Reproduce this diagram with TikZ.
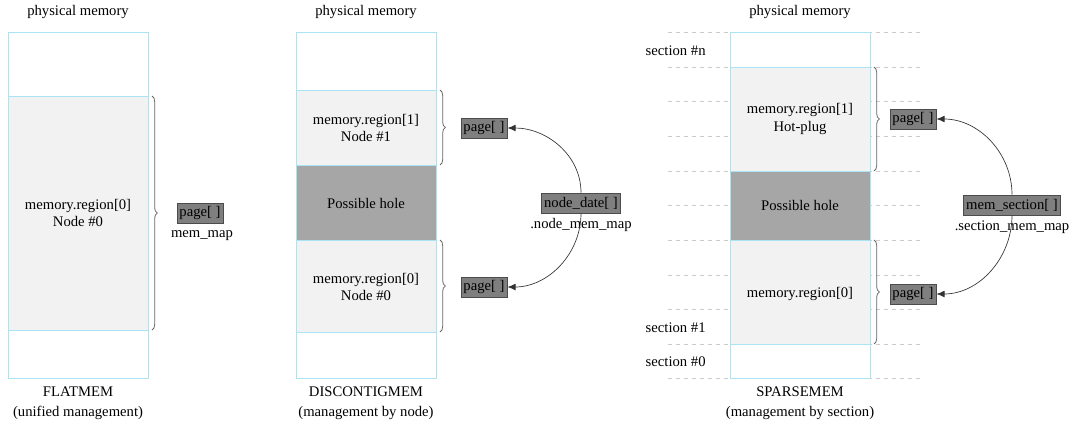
\documentclass[tikz,border=0pt]{standalone}
\usepackage{fontspec}
\setmainfont{Liberation Serif}
\usetikzlibrary{decorations.pathreplacing,arrows.meta}
\definecolor{bx}{HTML}{A8E4F4}
\definecolor{rg}{HTML}{F2F2F2}
\definecolor{hl}{HTML}{A6A6A6}
\definecolor{pg}{HTML}{7F7F7F}
\begin{document}
\begin{tikzpicture}[x=0.75pt,y=-0.75pt,font=\fontsize{11}{13}\selectfont,
 box/.style={draw=bx,line width=0.6pt},
 pg/.style={draw=black!70,fill=pg,inner sep=2pt,minimum height=15pt},
 br/.style={decorate,decoration={brace,amplitude=4pt},draw=black!60,line width=0.6pt},
 arr/.style={draw=black!80,line width=0.5pt,-{Latex[length=6pt,width=5pt]}},
 dl/.style={draw=black!20,dashed,line width=0.4pt}]
\useasboundingbox (0,0) rectangle (1080,432);
% ---- FLATMEM
\node (t1) at (78,12) {physical memory};
\draw[box] (8,32) rectangle (148,378);
\draw[box,fill=rg] (8,96) rectangle (148,330);
\node[align=center] (r0a) at (78,213) {memory.region[0]\\Node \#0};
\draw[br] (152,96) -- (152,330);
\node[pg] (pa) at (200,213) {page[ ]};
\node (mm) at (202,236) {mem\_map};
\node (f1) at (78,392) {FLATMEM};
\node (f2) at (78,413) {(unified management)};
% ---- DISCONTIGMEM
\node (t2) at (366,12) {physical memory};
\draw[box] (296,32) rectangle (436,378);
\draw[box,fill=rg] (296,90) rectangle (436,165);
\draw[box,fill=hl] (296,165) rectangle (436,240);
\draw[box,fill=rg] (296,240) rectangle (436,332);
\node[align=center] (d1) at (366,128) {memory.region[1]\\Node \#1};
\node (dh) at (366,203) {Possible hole};
\node[align=center] (d0) at (366,287) {memory.region[0]\\Node \#0};
\draw[br] (440,90) -- (440,165);
\draw[br] (440,240) -- (440,332);
\node[pg] (pb1) at (484,128) {page[ ]};
\node[pg] (pb0) at (484,287) {page[ ]};
\node[pg] (nd) at (581,203) {node\_date[ ]};
\node (ndm) at (581,225) {.node\_mem\_map};
\draw[arr] (nd.north) to[out=90,in=0,looseness=1] (pb1.east);
\draw[arr] (nd.south) to[out=-90,in=0,looseness=1] (pb0.east);
\node (g1) at (366,392) {DISCONTIGMEM};
\node (g2) at (366,413) {(management by node)};
% ---- SPARSEMEM
\node (t3) at (800,12) {physical memory};
\foreach \y in {32,67,101,136,171,205,240,275,309,344,378} \draw[dl] (668,\y) -- (923,\y);
\draw[box,fill=white] (730,32) rectangle (870,378);
\draw[box,fill=rg] (730,67) rectangle (870,171);
\draw[box,fill=hl] (730,171) rectangle (870,240);
\draw[box,fill=rg] (730,240) rectangle (870,344);
\node[align=center] (s1) at (800,119) {memory.region[1]\\Hot-plug};
\node (sh) at (800,205) {Possible hole};
\node (s0) at (800,294) {memory.region[0]};
\node[anchor=west] (sn) at (641,51) {section \#n};
\node[anchor=west] (sa) at (641,328) {section \#1};
\node[anchor=west] (sz) at (641,362) {section \#0};
\draw[br] (874,67) -- (874,171);
\draw[br] (874,240) -- (874,344);
\node[pg] (pc1) at (913,119) {page[ ]};
\node[pg] (pc0) at (913,294) {page[ ]};
\node[pg] (ms) at (1012,205) {mem\_section[ ]};
\node (msm) at (1012,227) {.section\_mem\_map};
\draw[arr] (ms.north) to[out=90,in=0] (pc1.east);
\draw[arr] (ms.south) to[out=-90,in=0] (pc0.east);
\node (h1) at (800,392) {SPARSEMEM};
\node (h2) at (800,413) {(management by section)};
\end{tikzpicture}
\end{document}
